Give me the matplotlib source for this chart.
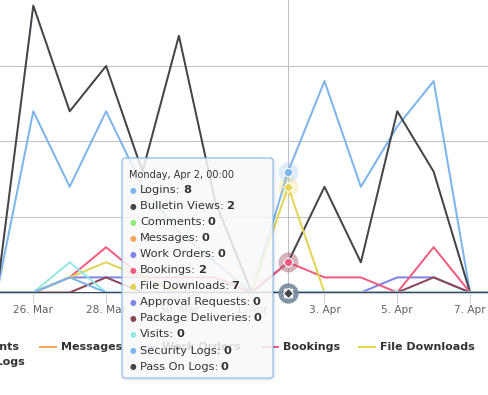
import matplotlib
matplotlib.use("Agg")
import matplotlib.pyplot as plt
import matplotlib.dates as mdates
from matplotlib.patches import FancyBboxPatch
import pandas as pd

# Veriler (24 Mar - 8 Apr, günlük)
tarihler = pd.to_datetime([
    "2018-03-24", "2018-03-25", "2018-03-26", "2018-03-27", "2018-03-28",
    "2018-03-29", "2018-03-30", "2018-03-31", "2018-04-01", "2018-04-02",
    "2018-04-03", "2018-04-04", "2018-04-05", "2018-04-06", "2018-04-07",
    "2018-04-08",
])
logins      = [0, 0, 12, 7, 12, 7, 4, 2, 0, 8, 14, 7, 11, 14, 0, 0]
bulletin    = [0, 0, 19, 12, 15, 8, 17, 6, 0, 2, 7, 2, 12, 8, 0, 0]
comments    = [0, 0, 0, 0, 0, 0, 0, 0, 0, 0, 0, 0, 0, 0, 0, 0]
messages    = [0, 0, 0, 0, 0, 0, 0, 0, 0, 0, 0, 0, 0, 0, 0, 0]
work_orders = [0, 0, 0, 1, 1, 1, 0, 0, 0, 0, 0, 0, 1, 1, 0, 0]
bookings    = [0, 0, 0, 1, 3, 1, 1, 1, 0, 2, 1, 1, 0, 3, 0, 0]
file_dl     = [0, 0, 0, 1, 2, 1, 0, 0, 0, 7, 0, 0, 0, 0, 0, 0]
approval    = [0, 0, 0, 0, 0, 0, 0, 0, 0, 0, 0, 0, 0, 0, 0, 0]
package     = [0, 0, 0, 0, 1, 0, 0, 0, 0, 0, 0, 0, 0, 1, 0, 0]
visits      = [0, 0, 0, 2, 0, 0, 0, 0, 0, 0, 0, 0, 0, 0, 0, 0]
security    = [0, 0, 0, 1, 0, 0, 0, 0, 0, 0, 0, 0, 0, 0, 0, 0]
pass_on     = [0, 0, 0, 0, 0, 0, 0, 0, 0, 0, 0, 0, 0, 0, 0, 0]

isimler = ["Logins", "Bulletin Views", "Comments", "Messages", "Work Orders",
           "Bookings", "File Downloads", "Approval Requests",
           "Package Deliveries", "Visits", "Security Logs", "Pass On Logs"]
seriler = [logins, bulletin, comments, messages, work_orders, bookings,
           file_dl, approval, package, visits, security, pass_on]
renkler = ["#7cb5ec", "#434348", "#90ed7d", "#f7a35c", "#8085e9", "#f15c80",
           "#e4d354", "#8085e8", "#8d4653", "#91e8e1", "#7cb5ec", "#434348"]
semboller = ["o", "D", "s", "^", "v"]

tick_tarihleri = pd.to_datetime(["2018-03-26", "2018-03-28", "2018-03-30",
                                 "2018-04-01", "2018-04-03", "2018-04-05",
                                 "2018-04-07"])
tick_etiketleri = ["26. Mar", "28. Mar", "30. Mar", "1. Apr", "3. Apr",
                   "5. Apr", "7. Apr"]
hover_tarih = pd.Timestamp("2018-04-02")
hover_baslik = "Monday, Apr 2, 00:00"

W, H = 489, 395
fig = plt.figure(figsize=(W / 100, H / 100), dpi=100)
ax = fig.add_axes([0, (H - 292.5) / H, 1, 292.5 / H])

x0 = mdates.date2num(pd.Timestamp("2018-03-25"))
ax.set_xlim(x0 + 0.085, x0 + 13.52)
ax.set_ylim(0, 19.37)

ax.set_yticks([0, 5, 10, 15])
ax.yaxis.grid(True, color="#C0C0C0", lw=0.72)
ax.tick_params(axis="y", length=0, labelleft=False)
ax.set_axisbelow(True)

ax.set_xticks(mdates.date2num(tick_tarihleri))
ax.set_xticklabels(tick_etiketleri)
ax.tick_params(axis="x", length=7.2, width=0.72, color="#C0D0E0",
               labelsize=7.6, labelcolor="#606060", pad=1.5)
for k in ["top", "left", "right"]:
    ax.spines[k].set_visible(False)
ax.spines["bottom"].set_color("#C0D0E0")
ax.spines["bottom"].set_linewidth(0.72)

# crosshair
ax.axvline(hover_tarih, color="#C0C0C0", lw=0.72, zorder=1.5)

for i, (s, c) in enumerate(zip(seriler, renkler)):
    ax.plot(tarihler, s, color=c, lw=1.44, solid_joinstyle="round",
            clip_on=False, zorder=2 + i * 0.01)

# hover noktaları
hi = list(tarihler).index(hover_tarih)
for i, (s, c) in enumerate(zip(seriler, renkler)):
    ax.scatter([hover_tarih], [s[hi]], s=207, color=c, alpha=0.25, lw=0,
               zorder=3, clip_on=False)
for i, (s, c) in enumerate(zip(seriler, renkler)):
    m = semboller[i % len(semboller)]
    ax.scatter([hover_tarih], [s[hi]], s=26 if m == "D" else 36, marker=m,
               color=c, edgecolor="white", lw=0.72, zorder=4 + i * 0.01,
               clip_on=False)

# legend + tooltip (piksel koordinatları)
ov = fig.add_axes([0, 0, 1, 1], zorder=5)
ov.set_xlim(0, W)
ov.set_ylim(H, 0)
ov.axis("off")

yazi = "#333333"
leg_items = [(40, "Messages"), (141, "Work Orders"), (262, "Bookings"),
             (359, "File Downloads")]
for x, ad in leg_items:
    c = renkler[isimler.index(ad)]
    ov.plot([x, x + 16], [347, 347], color=c, lw=1.44, zorder=1)
    ov.text(x + 21, 347, ad, fontsize=8, fontweight="bold", color=yazi,
            va="center", ha="left", zorder=1)
ov.text(20, 347, "Comments", fontsize=8, fontweight="bold", color=yazi,
        va="center", ha="right", zorder=1)
ov.text(25, 362, "Pass On Logs", fontsize=8, fontweight="bold", color=yazi,
        va="center", ha="right", zorder=1)

golge = FancyBboxPatch((123, 159), 151, 220,
                       boxstyle="round,pad=0,rounding_size=3",
                       fc="none", ec="black", alpha=0.08, lw=2.2, zorder=9)
ov.add_patch(golge)
kutu = FancyBboxPatch((122, 158), 151, 220,
                      boxstyle="round,pad=0,rounding_size=3",
                      fc=(249 / 255, 249 / 255, 249 / 255, 0.85),
                      ec=renkler[0], lw=0.72, zorder=10)
ov.add_patch(kutu)

ov.text(129, 175, hover_baslik, fontsize=7.0, color=yazi, va="center",
        ha="left", zorder=11)
for i, (ad, s, c) in enumerate(zip(isimler, seriler, renkler)):
    y = 190 + i * 16.05
    ov.text(133, y, "\u25CF", fontsize=5.5, color=c, va="center",
            ha="center", zorder=11)
    t = ov.text(140, y, ad + ":", fontsize=8.2, color=yazi, va="center",
                ha="left", zorder=11)
    ov.annotate(str(s[hi]), xy=(1, 0), xycoords=t, xytext=(1.8, 0),
                textcoords="offset points", fontsize=8.2, fontweight="bold",
                color=yazi, va="bottom", ha="left", zorder=11)

fig.savefig("out.png", dpi=100)
